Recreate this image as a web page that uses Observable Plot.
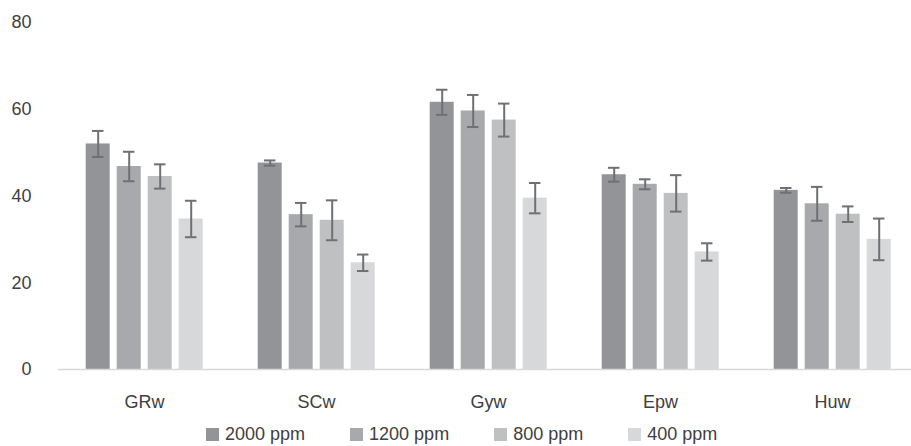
<!DOCTYPE html>
<html><head><meta charset="utf-8">
<script src="https://cdn.jsdelivr.net/npm/d3@7"></script>
<script src="https://cdn.jsdelivr.net/npm/@observablehq/plot@0.6"></script>
<style>
body{margin:0;background:#fff;font-family:"Liberation Sans",Arial,sans-serif;}
#chart{width:911px;height:446px;overflow:hidden;position:relative;background:#fff}
#chart svg{overflow:hidden}
.legend{position:absolute;left:206px;top:424px;display:flex;align-items:center;gap:45px;font-size:18px;color:#404040;line-height:21px;white-space:nowrap}
.item{display:flex;align-items:center;gap:6px}
.sw{width:13px;height:13px;display:inline-block}
</style></head><body><div id="chart"></div><script>
const categories = ["GRw","SCw","Gyw","Epw","Huw"];
const series = ["2000 ppm","1200 ppm","800 ppm","400 ppm"];
const colors = ["#939498","#a8a9ac","#bfc0c2","#d7d8da"];
const v2000 = [52.0, 47.6, 61.6, 44.9, 41.3];
const v1200 = [46.8, 35.7, 59.6, 42.7, 38.2];
const v800  = [44.5, 34.4, 57.5, 40.6, 35.8];
const v400  = [34.7, 24.6, 39.5, 27.1, 30.0];
const e2000 = [3.0, 0.6, 2.9, 1.6, 0.55];
const e1200 = [3.4, 2.7, 3.7, 1.15, 3.9];
const e800  = [2.8, 4.6, 3.8, 4.2, 1.8];
const e400  = [4.2, 1.9, 3.5, 2.0, 4.8];
const yTicks = [0, 20, 40, 60, 80];

const values = [v2000, v1200, v800, v400];
const errors = [e2000, e1200, e800, e400];
const table = categories.flatMap((c, i) => series.map((s, j) => ({cat: c, ser: s, v: values[j][i], e: errors[j][i]})));

const errColor = "#6f7074";
const plot = Plot.plot({
  width: 911, height: 416,
  marginLeft: 57.3, marginRight: -8.5, marginTop: 22, marginBottom: 47,
  style: {fontFamily: '"Liberation Sans", Arial, sans-serif', fontSize: "18px", color: "#404040", background: "#fff"},
  fx: {domain: categories, padding: 0, label: null, axis: "bottom", tickSize: 0, tickPadding: 26},
  x: {domain: series, paddingInner: 0.217, paddingOuter: 0.863, axis: null},
  y: {domain: [0, 80], ticks: yTicks, tickSize: 0, tickPadding: 27, label: null},
  color: {domain: series, range: colors},
  marks: [
    Plot.barY(table, {fx: "cat", x: "ser", y: "v", fill: "ser"}),
    Plot.ruleY([0], {stroke: "#d9d9d9", strokeWidth: 1.5}),
    Plot.ruleX(table, {fx: "cat", x: "ser", y1: d => d.v - d.e, y2: d => d.v + d.e, stroke: errColor, strokeWidth: 2}),
    Plot.tickY(table, {fx: "cat", x: "ser", y: d => d.v + d.e, stroke: errColor, strokeWidth: 2, insetLeft: 6.25, insetRight: 6.25}),
    Plot.tickY(table, {fx: "cat", x: "ser", y: d => d.v - d.e, stroke: errColor, strokeWidth: 2, insetLeft: 6.25, insetRight: 6.25})
  ]
});
const chart = document.getElementById("chart");
chart.appendChild(plot);
const legend = document.createElement("div");
legend.className = "legend";
series.forEach((s, j) => {
  const it = document.createElement("div");
  it.className = "item";
  const sw = document.createElement("span");
  sw.className = "sw";
  sw.style.background = colors[j];
  const t = document.createElement("span");
  t.textContent = s;
  it.appendChild(sw); it.appendChild(t);
  legend.appendChild(it);
});
chart.appendChild(legend);
</script></body></html>
